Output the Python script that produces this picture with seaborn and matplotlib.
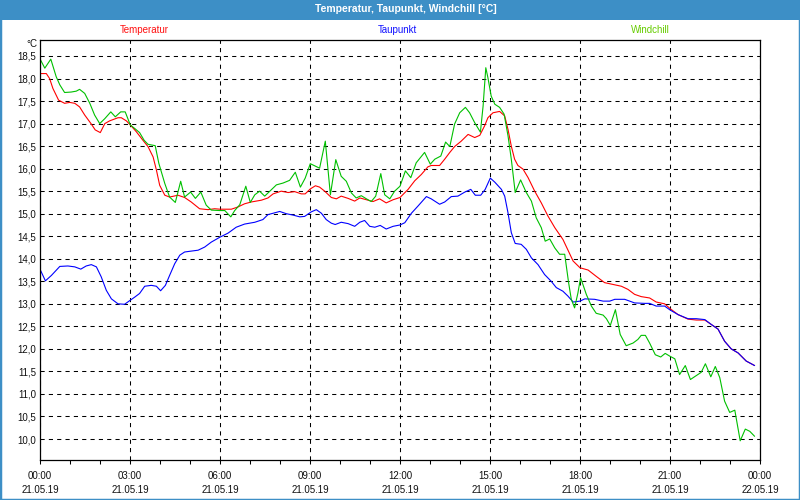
import numpy as np
import pandas as pd
import matplotlib
matplotlib.use("Agg")
import matplotlib.pyplot as plt
import seaborn as sns
from matplotlib.patches import Rectangle

# ---------------- data (hours since 21.05.19 00:00, °C) ----------------
temp_h = [0.02, 0.21, 0.32, 0.43, 0.62, 0.82, 0.99, 1.16, 1.32, 1.49, 1.71, 1.84, 2.01, 2.16, 2.32, 2.60,
          2.71, 2.88, 3.01, 3.21, 3.43, 3.60, 3.77, 3.88, 3.99, 4.16, 4.32, 4.60, 4.82, 5.04, 5.32, 5.60,
          5.82, 6.00, 6.38, 6.60, 6.82, 7.04, 7.38, 7.60, 7.77, 8.04, 8.27, 8.49, 8.71, 8.84, 9.01, 9.18,
          9.32, 9.49, 9.71, 9.88, 10.04, 10.27, 10.49, 10.66, 10.88, 11.10, 11.32, 11.54, 11.77, 12.00,
          12.27, 12.49, 12.71, 12.93, 13.04, 13.32, 13.49, 13.66, 13.82, 14.04, 14.27, 14.49, 14.66, 14.82,
          14.93, 15.10, 15.32, 15.49, 15.60, 15.71, 15.82, 15.93, 16.10, 16.27, 16.49, 16.71, 16.93, 17.16,
          17.43, 17.60, 17.77, 18.00, 18.27, 18.54, 18.82, 19.10, 19.38, 19.60, 19.82, 20.04, 20.32, 20.54,
          20.82, 21.01, 21.27, 21.60, 21.88, 22.16, 22.38, 22.60, 22.82, 23.04, 23.27, 23.54, 23.82]
temp_v = [18.11, 18.11, 18.00, 17.78, 17.52, 17.45, 17.47, 17.45, 17.37, 17.19, 16.99, 16.86, 16.80, 17.00,
          17.06, 17.13, 17.13, 17.06, 16.97, 16.82, 16.63, 16.49, 16.26, 15.97, 15.63, 15.41, 15.37, 15.41,
          15.36, 15.26, 15.11, 15.09, 15.11, 15.10, 15.10, 15.15, 15.22, 15.26, 15.30, 15.35, 15.44, 15.50,
          15.47, 15.49, 15.44, 15.44, 15.55, 15.62, 15.59, 15.50, 15.36, 15.33, 15.39, 15.34, 15.28, 15.35,
          15.31, 15.27, 15.33, 15.24, 15.31, 15.36, 15.54, 15.73, 15.87, 16.04, 16.07, 16.07, 16.21, 16.36,
          16.49, 16.61, 16.76, 16.69, 16.74, 16.95, 17.13, 17.24, 17.27, 17.17, 16.87, 16.50, 16.21, 16.07,
          15.99, 15.80, 15.50, 15.24, 14.95, 14.69, 14.43, 14.19, 13.95, 13.80, 13.75, 13.61, 13.47, 13.43,
          13.39, 13.32, 13.21, 13.16, 13.13, 13.04, 13.00, 12.89, 12.76, 12.66, 12.64, 12.64, 12.54, 12.44,
          12.17, 12.00, 11.91, 11.73, 11.63]

dew_h = [0.02, 0.18, 0.38, 0.66, 0.93, 1.16, 1.36, 1.54, 1.71, 1.88, 2.04, 2.21, 2.38, 2.60, 2.82, 3.01,
         3.16, 3.32, 3.49, 3.71, 3.88, 4.02, 4.18, 4.32, 4.49, 4.66, 4.82, 5.04, 5.27, 5.49, 5.71, 6.00,
         6.27, 6.54, 6.82, 7.16, 7.43, 7.60, 7.77, 7.99, 8.21, 8.43, 8.66, 8.82, 9.04, 9.21, 9.38, 9.54,
         9.71, 9.84, 10.04, 10.27, 10.49, 10.66, 10.82, 10.99, 11.16, 11.34, 11.54, 11.77, 12.00, 12.16,
         12.38, 12.60, 12.88, 13.04, 13.32, 13.49, 13.71, 13.93, 14.16, 14.36, 14.51, 14.69, 14.84, 15.01,
         15.16, 15.38, 15.49, 15.60, 15.71, 15.84, 16.04, 16.21, 16.38, 16.60, 16.82, 17.04, 17.21, 17.43,
         17.60, 17.77, 18.00, 18.16, 18.49, 18.77, 18.99, 19.16, 19.49, 19.82, 20.16, 20.32, 20.54, 20.82,
         21.01, 21.27, 21.60, 21.88, 22.16, 22.38, 22.60, 22.82, 23.04, 23.27, 23.54, 23.82]
dew_v = [13.74, 13.51, 13.63, 13.83, 13.84, 13.82, 13.77, 13.84, 13.87, 13.82, 13.60, 13.30, 13.11, 13.00,
         12.99, 13.08, 13.15, 13.23, 13.39, 13.41, 13.39, 13.29, 13.41, 13.63, 13.89, 14.08, 14.15, 14.17,
         14.19, 14.26, 14.37, 14.48, 14.57, 14.70, 14.77, 14.81, 14.87, 14.98, 15.01, 15.05, 15.00, 14.97,
         14.93, 14.94, 15.04, 15.09, 15.01, 14.87, 14.79, 14.76, 14.81, 14.78, 14.72, 14.81, 14.85, 14.72,
         14.70, 14.74, 14.66, 14.72, 14.75, 14.80, 15.01, 15.17, 15.38, 15.33, 15.21, 15.26, 15.38, 15.39,
         15.48, 15.54, 15.41, 15.41, 15.54, 15.79, 15.70, 15.54, 15.39, 15.02, 14.58, 14.34, 14.32, 14.21,
         14.02, 13.87, 13.65, 13.50, 13.36, 13.28, 13.17, 13.04, 13.06, 13.11, 13.10, 13.06, 13.06, 13.10,
         13.10, 13.02, 13.01, 13.01, 12.95, 12.95, 12.86, 12.76, 12.67, 12.67, 12.65, 12.54, 12.44, 12.17,
         12.00, 11.91, 11.73, 11.63]

wind_h = [0.02, 0.16, 0.36, 0.54, 0.66, 0.82, 1.04, 1.21, 1.32, 1.49, 1.66, 1.82, 1.99, 2.16, 2.36, 2.51,
          2.69, 2.84, 3.01, 3.16, 3.32, 3.47, 3.60, 3.84, 3.96, 4.16, 4.32, 4.51, 4.69, 4.82, 5.02, 5.18,
          5.36, 5.54, 5.71, 6.00, 6.16, 6.36, 6.49, 6.66, 6.86, 7.01, 7.16, 7.32, 7.49, 7.71, 7.88, 8.10,
          8.32, 8.51, 8.68, 8.84, 9.01, 9.32, 9.51, 9.68, 9.86, 10.04, 10.21, 10.38, 10.54, 10.71, 10.88,
          11.04, 11.19, 11.36, 11.49, 11.66, 11.82, 12.00, 12.18, 12.36, 12.54, 12.82, 13.01, 13.16, 13.36,
          13.52, 13.66, 13.82, 13.99, 14.18, 14.32, 14.49, 14.68, 14.77, 14.86, 14.93, 15.04, 15.16, 15.32,
          15.47, 15.60, 15.71, 15.84, 16.02, 16.21, 16.38, 16.54, 16.71, 16.84, 16.99, 17.16, 17.32, 17.49,
          17.62, 17.71, 17.82, 17.93, 18.02, 18.21, 18.38, 18.54, 18.77, 18.88, 19.01, 19.18, 19.34, 19.54,
          19.77, 19.93, 20.04, 20.18, 20.32, 20.51, 20.69, 20.84, 20.99, 21.16, 21.32, 21.51, 21.68, 21.84,
          22.04, 22.18, 22.36, 22.51, 22.66, 22.82, 22.99, 23.16, 23.34, 23.51, 23.66, 23.82]
wind_v = [18.41, 18.23, 18.43, 18.04, 17.86, 17.69, 17.70, 17.72, 17.76, 17.67, 17.45, 17.19, 17.00, 17.11,
          17.26, 17.15, 17.26, 17.26, 16.97, 16.89, 16.80, 16.63, 16.54, 16.51, 16.12, 15.67, 15.37, 15.25,
          15.72, 15.37, 15.48, 15.34, 15.48, 15.19, 15.08, 15.07, 15.07, 14.93, 15.07, 15.20, 15.61, 15.25,
          15.42, 15.50, 15.39, 15.53, 15.64, 15.68, 15.74, 15.92, 15.59, 15.79, 16.11, 16.01, 16.61, 15.42,
          16.20, 15.83, 15.72, 15.46, 15.35, 15.40, 15.33, 15.27, 15.39, 15.89, 15.42, 15.33, 15.50, 15.61,
          15.95, 15.80, 16.13, 16.36, 16.10, 16.21, 16.28, 16.59, 16.49, 16.99, 17.24, 17.36, 17.24, 17.02,
          16.81, 17.39, 18.24, 18.02, 17.61, 17.43, 17.36, 17.21, 16.73, 16.21, 15.47, 15.75, 15.47, 15.28,
          14.91, 14.69, 14.39, 14.44, 14.24, 14.10, 14.10, 13.47, 13.10, 12.91, 13.24, 13.58, 13.21, 12.95,
          12.79, 12.75, 12.67, 12.52, 12.87, 12.32, 12.07, 12.13, 12.21, 12.30, 12.30, 12.13, 11.87, 11.82,
          11.90, 11.84, 11.78, 11.43, 11.63, 11.32, 11.39, 11.48, 11.67, 11.38, 11.61, 11.36, 10.84, 10.59,
          10.64, 9.96, 10.22, 10.17, 10.06]

series_names = ["Temperatur", "Taupunkt", "Windchill"]
series_colors = ["#ff0000", "#0000ff", "#00c000"]
label_colors = ["#ff1010", "#1010ff", "#66cc00"]

x_ticks = [0, 3, 6, 9, 12, 15, 18, 21, 24]
x_tick_labels = ["00:00\n21.05.19", "03:00\n21.05.19", "06:00\n21.05.19", "09:00\n21.05.19",
                 "12:00\n21.05.19", "15:00\n21.05.19", "18:00\n21.05.19", "21:00\n21.05.19",
                 "00:00\n22.05.19"]
y_ticks = [10.0, 10.5, 11.0, 11.5, 12.0, 12.5, 13.0, 13.5, 14.0, 14.5, 15.0, 15.5, 16.0, 16.5,
           17.0, 17.5, 18.0, 18.5]
y_tick_labels = [f"{v:.1f}".replace(".", ",") for v in y_ticks]

title = "Temperatur, Taupunkt, Windchill [°C]"
unit_label = "°C"

# ---------------- frame ----------------
df = pd.concat([
    pd.DataFrame({"h": temp_h, "v": temp_v, "series": "Temperatur"}),
    pd.DataFrame({"h": dew_h, "v": dew_v, "series": "Taupunkt"}),
    pd.DataFrame({"h": wind_h, "v": wind_v, "series": "Windchill"}),
], ignore_index=True)

sns.set_theme(style="white")
plt.rcParams["font.family"] = ["Liberation Sans", "DejaVu Sans"]

W, H = 800, 500
fig = plt.figure(figsize=(8, 5), dpi=100, facecolor="white")
ax = fig.add_axes([40 / W, 1 - 460 / H, 720 / W, 420 / H])
ax.set_facecolor("white")

sns.lineplot(data=df, x="h", y="v", hue="series", hue_order=series_names,
             palette=dict(zip(series_names, series_colors)), estimator=None, sort=False,
             linewidth=0.8, ax=ax, legend=False)

ax.set_xlim(0, 24)
ax.set_ylim(9.534, 18.855)
ax.set_xlabel("")
ax.set_ylabel("")

ax.set_xticks(x_ticks)
ax.set_xticklabels(x_tick_labels, fontsize=7, color="#101010")
ax.set_xticks(range(25), minor=True)
for lab in ax.get_xticklabels():
    lab.set_linespacing(1.5)
ax.set_yticks(y_ticks)
ax.set_yticklabels(y_tick_labels, fontsize=7, color="#101010")

ax.tick_params(axis="x", which="both", direction="out", length=2.6, width=0.75,
               color="black", bottom=True, pad=5)
ax.tick_params(axis="y", which="both", length=0, pad=3)

ax.grid(True, which="major", axis="both", color="black", linestyle=(0, (4, 4)), linewidth=0.75)
ax.set_axisbelow(True)
for s in ax.spines.values():
    s.set_visible(True)
    s.set_color("black")
    s.set_linewidth(0.9)

# title bar and frame
blue = "#3d8fc6"
fig.patches.append(Rectangle((0, 1 - 20 / H), 1, 20 / H, transform=fig.transFigure,
                             facecolor=blue, edgecolor="none", zorder=0))
fig.patches.append(Rectangle((0, 0), 1, 1, transform=fig.transFigure, fill=False,
                             edgecolor=blue, linewidth=2.5, zorder=0))
fig.text(406 / W, 1 - 9 / H, title, color="white", fontweight="bold", fontsize=7.5,
         ha="center", va="center")

# series labels
label_x = [144, 397, 650]
for name, col, lx in zip(series_names, label_colors, label_x):
    fig.text(lx / W, 1 - 30 / H, name, color=col, fontsize=7, ha="center", va="center")

fig.text(37 / W, 1 - 44 / H, unit_label, fontsize=7, color="#101010", ha="right", va="center")

fig.savefig("out.png", dpi=100)
